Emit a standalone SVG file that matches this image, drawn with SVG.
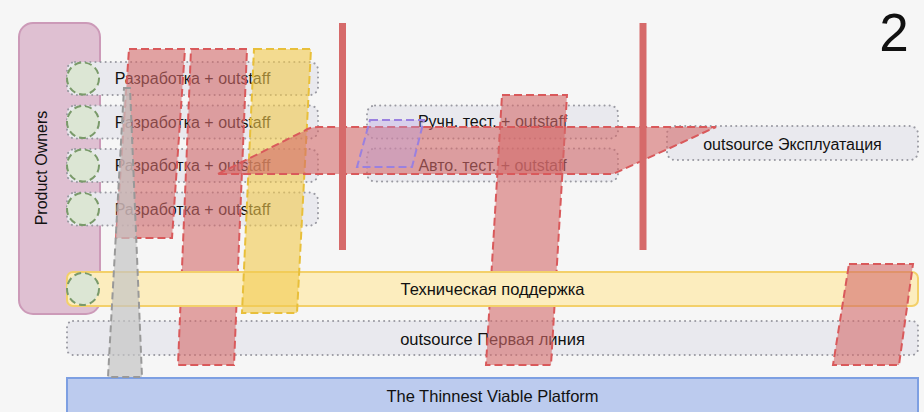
<svg xmlns="http://www.w3.org/2000/svg" width="924" height="412" viewBox="0 0 924 412">
<style>
text{font-family:"Liberation Sans",Arial,sans-serif;font-size:16px;fill:#111}
.row{fill:#e9e9ee;stroke:#9a9aa2;stroke-width:2;stroke-dasharray:0.1 5;stroke-linecap:round}
.ctr{text-anchor:middle}
.circ{fill:#dce6d4;stroke:#7a9a6a;stroke-width:2;stroke-dasharray:7 4}
.red{fill:#d46a6a;fill-opacity:0.6;stroke:#d9595b;stroke-width:2;stroke-dasharray:8 4}
.yel{fill:#f2c94c;fill-opacity:0.6;stroke:#e8bf3a;stroke-width:2;stroke-dasharray:8 4}
.vline{fill:#d66a6a}
</style>
<rect width="924" height="412" fill="#f6f6f6"/>

<g id="product-owners">
<rect x="19" y="23" width="81" height="291" rx="14" fill="#dfc0d2" stroke="#cc9ab8" stroke-width="2"/>
<text class="ctr" transform="translate(47,168) rotate(-90)">Product Owners</text>
</g>

<g id="dev-rows">
<g id="dev1"><rect class="row" x="67" y="62" width="251" height="33" rx="8"/><circle class="circ" cx="83" cy="78.5" r="16"/><text class="ctr" x="192.5" y="84">Разработка + outstaff</text></g>
<g id="dev2"><rect class="row" x="67" y="105.5" width="251" height="33" rx="8"/><circle class="circ" cx="83" cy="122" r="16"/><text class="ctr" x="192.5" y="127.5">Разработка + outstaff</text></g>
<g id="dev3"><rect class="row" x="67" y="149" width="251" height="33" rx="8"/><circle class="circ" cx="83" cy="165.5" r="16"/><text class="ctr" x="192.5" y="171">Разработка + outstaff</text></g>
<g id="dev4"><rect class="row" x="67" y="192.5" width="251" height="33" rx="8"/><circle class="circ" cx="83" cy="209" r="16"/><text class="ctr" x="192.5" y="214.5">Разработка + outstaff</text></g>
</g>

<g id="test-rows">
<g id="test-manual"><rect class="row" x="367" y="105.5" width="251" height="33" rx="8"/><text class="ctr" x="492.5" y="127">Ручн. тест. + outstaff</text></g>
<g id="test-auto"><rect class="row" x="367" y="148.5" width="251" height="33" rx="8"/><text class="ctr" x="492.5" y="171">Авто. тест. + outstaff</text></g>
</g>

<g id="ops"><rect class="row" x="667" y="126" width="251" height="34" rx="8"/><text class="ctr" x="792.5" y="149.5">outsource Эксплуатация</text></g>

<g id="first-line"><rect class="row" x="67" y="321" width="851" height="34" rx="6"/><text class="ctr" x="492.5" y="344.5" style="font-size:16.5px">outsource Первая линия</text></g>

<g id="bands-under">
<polygon id="band-red-1" class="red" points="129,49 185,49 172,238 116,238"/>
<polygon id="band-red-2" class="red" points="191,49 247,49 234,365 178,365"/>
<polygon id="band-red-mid" class="red" points="502,95 567,95 551,365 486,365"/>
</g>

<g id="tech-support"><rect x="67" y="272" width="851" height="34" rx="6" fill="#fcedbe" stroke="#f3d06a" stroke-width="2"/><circle class="circ" cx="83" cy="289" r="16"/><text class="ctr" x="492.5" y="294.5" style="font-size:16.5px">Техническая поддержка</text></g>

<g id="platform"><rect x="67" y="378" width="851" height="44" fill="#bccbee" stroke="#7d9fe2" stroke-width="2"/><text class="ctr" x="492.5" y="401.5" style="font-size:16.5px">The Thinnest Viable Platform</text></g>

<g id="bands-over">
<polygon id="band-yellow" class="yel" points="254,49 311,49 297,313 242,313"/>
<polygon id="band-red-right" class="red" points="849,264 913,264 899,365 833,365"/>
<polygon id="band-grey" points="124,88 130,88 142,377 108,377" fill="#c4c4c4" fill-opacity="0.7" stroke="#999" stroke-width="2" stroke-dasharray="7 4"/>
<path id="band-red-horizontal" class="red" d="M218,174 L304,131 Q310,127 318,127 L716,127 L613,174 Z"/>
<polygon id="band-purple" points="370,120 424,120 412,167 357,167" fill="#b9a2e6" fill-opacity="0.35" stroke="#9a80e0" stroke-width="2" stroke-dasharray="8 4"/>
</g>

<g id="separators">
<rect class="vline" x="339" y="23" width="7" height="227"/>
<rect class="vline" x="639.5" y="23" width="7" height="227"/>
</g>

<g id="connectors"/>

<text x="894" y="51" style="font-size:53px;text-anchor:middle">2</text>
</svg>
